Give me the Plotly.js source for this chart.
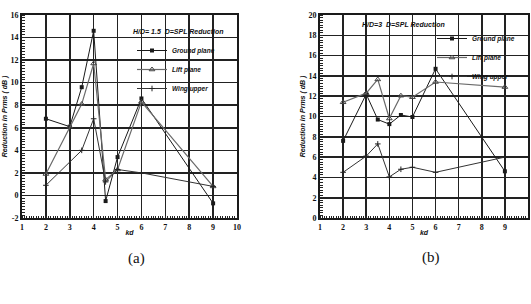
<!DOCTYPE html>
<html>
<head>
<meta charset="utf-8">
<script src="https://cdn.plot.ly/plotly-3.0.1.min.js"></script>
<style>html,body{margin:0;padding:0;background:#fff;}#chart{width:531px;height:304px;}</style>
</head>
<body>
<div id="chart"></div>
<script>
// Chart (a): H/D = 1.5
const kdA_ground = [2, 3, 3.5, 4, 4.5, 5, 6, 9];
const redA_ground = [6.8, 6.1, 9.6, 14.6, -0.5, 3.4, 8.6, -0.7];
const kdA_lift = [2, 3, 3.5, 4, 4.5, 5, 6, 9];
const redA_lift = [1.9, 6.1, 8.1, 11.7, 1.4, 2.3, 8.3, 0.8];
const kdA_wing = [2, 3.5, 4, 4.5, 5, 6, 9];
const redA_wing = [0.9, 4.0, 6.8, 1.2, 2.3, 2.0, 0.8];

// Chart (b): H/D = 3
const kdB_ground = [2, 3, 3.5, 4, 4.5, 5, 6, 9];
const redB_ground = [7.6, 12.2, 9.7, 9.25, 10.15, 9.95, 14.7, 4.6];
const kdB_lift = [2, 3, 3.5, 4, 4.5, 5, 6, 9];
const redB_lift = [11.4, 12.3, 13.65, 9.8, 12.05, 11.9, 13.4, 12.9];
const kdB_wing = [2, 3, 3.5, 4, 4.5, 5, 6, 9];
const redB_wing = [4.5, 6.1, 7.3, 4.05, 4.8, 5.0, 4.5, 6.0];

const seriesNames = ['Ground plane', 'Lift plane', 'Wing upper'];
const xTicks = [1, 2, 3, 4, 5, 6, 7, 8, 9, 10];
const yTicksA = [-2, 0, 2, 4, 6, 8, 10, 12, 14, 16];
const yTicksB = [0, 2, 4, 6, 8, 10, 12, 14, 16, 18, 20];

const W = 531, H = 304;
const lineStyles = [
  {color: '#1a1a1a', width: 1},
  {color: '#6a6a6a', width: 1.2},
  {color: '#333333', width: 1}
];
const markerStyles = [
  {symbol: 'square', size: 4, color: '#1a1a1a'},
  {symbol: 'triangle-up-open', size: 5, color: '#444', line: {width: 1, color: '#444'}},
  {symbol: 'cross-thin', size: 4, color: '#222', line: {width: 1, color: '#222'}}
];

function tr(x, y, i, xa, ya, leg) {
  return {
    x: x, y: y, type: 'scatter', mode: 'lines+markers',
    name: seriesNames[i], xaxis: xa, yaxis: ya, legend: leg,
    line: lineStyles[i], marker: markerStyles[i]
  };
}

const data = [
  tr(kdA_ground, redA_ground, 0, 'x', 'y', 'legend'),
  tr(kdA_lift, redA_lift, 1, 'x', 'y', 'legend'),
  tr(kdA_wing, redA_wing, 2, 'x', 'y', 'legend'),
  tr(kdB_ground, redB_ground, 0, 'x2', 'y2', 'legend2'),
  tr(kdB_lift, redB_lift, 1, 'x2', 'y2', 'legend2'),
  tr(kdB_wing, redB_wing, 2, 'x2', 'y2', 'legend2')
];

const tickFont = {family: 'Liberation Serif', size: 8, color: '#111', weight: 'bold'};
const titleFont = {family: 'Liberation Sans', size: 7, color: '#111', weight: 'bold', style: 'italic'};
const legFont = {family: 'Liberation Sans', size: 6.5, color: '#111', weight: 'bold', style: 'italic'};

function xAxis(dom, anchor) {
  return {
    domain: dom, anchor: anchor, range: [1, 10], tickvals: xTicks, ticktext: xTicks.map(String),
    showgrid: true, gridcolor: '#222', gridwidth: 1.6, zeroline: false,
    showline: true, mirror: true, linecolor: '#1a1a1a', linewidth: 2,
    ticks: '', tickfont: tickFont, automargin: false,
    minor: {dtick: 0.1, ticks: 'inside', ticklen: 2, tickcolor: '#222', showgrid: false},
    title: {text: 'kd', font: titleFont, standoff: 0}
  };
}
function yAxis(dom, anchor, rng, tv) {
  return {
    domain: dom, anchor: anchor, range: rng, tickvals: tv, ticktext: tv.map(String),
    showgrid: true, gridcolor: '#222', gridwidth: 1.6, zeroline: false,
    showline: true, mirror: true, linecolor: '#1a1a1a', linewidth: 2,
    ticks: '', tickfont: tickFont, automargin: false,
    minor: {dtick: 0.25, ticks: 'inside', ticklen: 3, tickcolor: '#222', showgrid: false},
    title: {text: 'Reduction in Prms ( dB )', font: titleFont, standoff: 2}
  };
}

const yDom = [1 - 218 / H, 1 - 15 / H];
const layout = {
  width: W, height: H,
  margin: {l: 0, r: 0, t: 0, b: 0},
  paper_bgcolor: '#fff', plot_bgcolor: '#fff',
  showlegend: true,
  xaxis: xAxis([22 / W, 237 / W], 'y'),
  yaxis: yAxis(yDom, 'x', [-2, 16], yTicksA),
  xaxis2: xAxis([320 / W, 528 / W], 'y2'),
  yaxis2: yAxis(yDom, 'x2', [0, 20], yTicksB),
  legend: {x: 132 / W, y: 1 - 36 / H, xanchor: 'left', yanchor: 'top', bgcolor: 'rgba(0,0,0,0)',
           font: legFont, tracegroupgap: 0, itemwidth: 30},
  legend2: {x: 432 / W, y: 1 - 24 / H, xanchor: 'left', yanchor: 'top', bgcolor: 'rgba(0,0,0,0)',
            font: legFont, tracegroupgap: 0, itemwidth: 30},
  annotations: [
    {text: 'H/D= 1.5  D=SPL Reduction', xref: 'paper', yref: 'paper', x: 178 / W, y: 1 - 31 / H,
     xanchor: 'center', yanchor: 'middle', showarrow: false, font: titleFont},
    {text: 'H/D=3  D=SPL Reduction', xref: 'paper', yref: 'paper', x: 403 / W, y: 1 - 24 / H,
     xanchor: 'center', yanchor: 'middle', showarrow: false, font: titleFont},
    {text: '(a)', xref: 'paper', yref: 'paper', x: 136 / W, y: 1 - 258 / H, showarrow: false,
     xanchor: 'center', yanchor: 'middle', font: {family: 'Liberation Serif', size: 15, color: '#111'}},
    {text: '(b)', xref: 'paper', yref: 'paper', x: 431 / W, y: 1 - 257 / H, showarrow: false,
     xanchor: 'center', yanchor: 'middle', font: {family: 'Liberation Serif', size: 15, color: '#111'}}
  ]
};

Plotly.newPlot('chart', data, layout, {staticPlot: true, displayModeBar: false});
</script>
</body>
</html>
